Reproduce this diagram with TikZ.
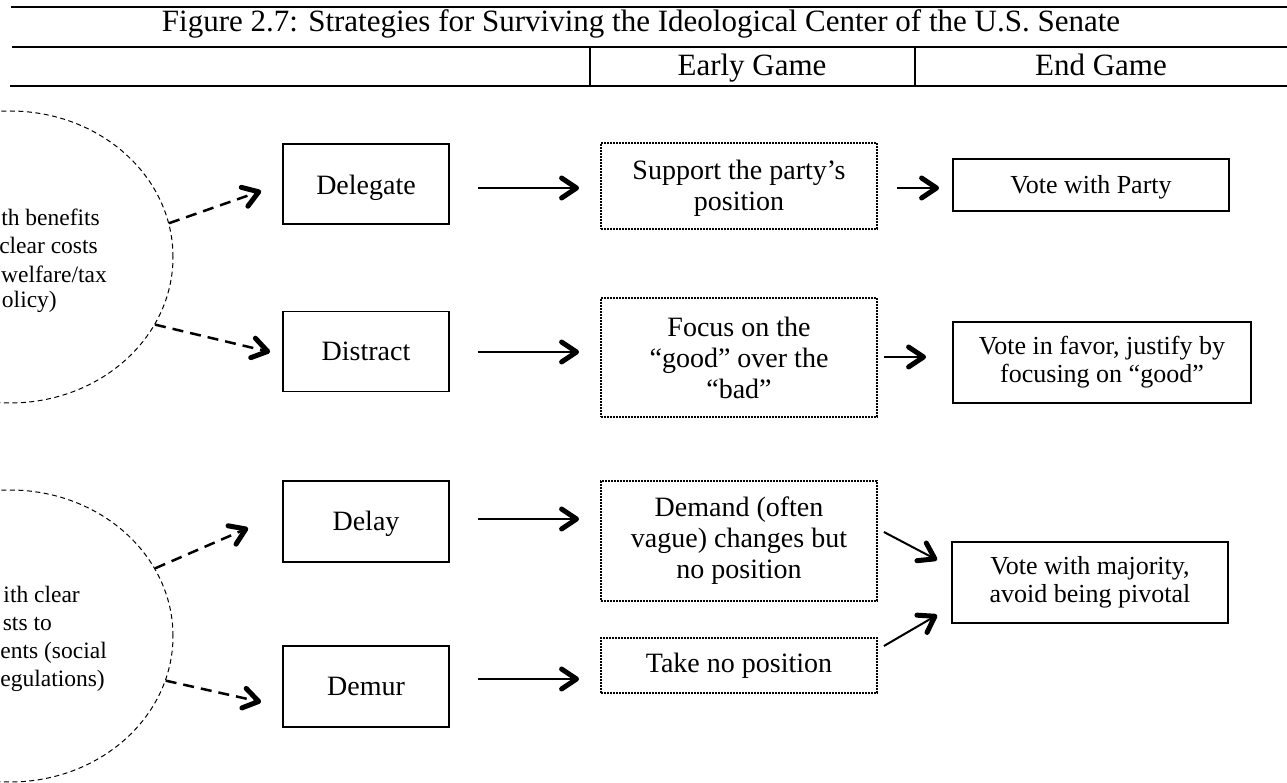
\documentclass[tikz,border=0pt]{standalone}
\usepackage{fontspec}
\setmainfont{Liberation Serif}
\usetikzlibrary{arrows.meta,shapes.geometric}
\newcommand\pushdown[1]{\rule{0pt}{\dimexpr0.69em+#1\relax}}
\begin{document}
\begin{tikzpicture}[x=1pt,y=-1pt,
  solidbox/.style={draw, line width=1.8pt, inner sep=0pt, align=center},
  dotbox/.style={draw, line width=1.8pt, dash pattern=on 1.6pt off 1.4pt, inner sep=0pt, align=center},
  earlyfont/.style={font=\fontsize{28}{31}\selectfont},
  endfont/.style={font=\fontsize{26}{28}\selectfont},
  headfont/.style={font=\fontsize{31}{31}\selectfont},
  bubble/.style={draw, ellipse, line width=1pt, dash pattern=on 5pt off 3.5pt, inner sep=0pt, minimum width=326pt, minimum height=292pt},
  bubbletext/.style={anchor=base east, inner sep=0pt, font=\fontsize{23.5}{28}\selectfont},
  tipstyle/.style={-{Straight Barb[length=15pt,width=20pt,line width'=5pt,round]}},
  solidarrow/.style={tipstyle, line width=2pt},
  dasharrow/.style={tipstyle, line width=2.5pt, dash pattern=on 11pt off 7pt},
  rulestyle/.style={line width=2.5pt},
  divider/.style={line width=1.5pt},
]
\useasboundingbox (0,0) rectangle (1287,783);

% header table
\draw[rulestyle] (11,7) -- (1287,7);
\draw[rulestyle] (12,47) -- (1287,47);
\draw[rulestyle] (10,86) -- (1287,86);
\draw[divider] (590,47) -- (590,86);
\draw[divider] (915,47) -- (915,86);
\node[anchor=base, inner sep=0pt, headfont] (title) at (641,32) {Figure 2.7: Strategies for Surviving the Ideological Center of the U.S. Senate};
\node[anchor=base, inner sep=0pt, headfont] (early) at (752,76) {Early Game};
\node[anchor=base, inner sep=0pt, headfont] (endgame) at (1101,76) {End Game};

% left bubbles
\node[bubble] (c1) at (10,257) {};
\node[bubble] (c2) at (10,636) {};
\node[bubbletext] (t1a) at (100,226) {th benefits};
\node[bubbletext] (t1b) at (98,254) {clear costs};
\node[bubbletext] (t1c) at (107,283) {welfare/tax};
\node[bubbletext] (t1d) at (57,308) {olicy)};
\node[bubbletext] (t2a) at (80,602) {ith clear};
\node[bubbletext] (t2b) at (52,630) {sts to};
\node[bubbletext] (t2c) at (107,658) {ents (social};
\node[bubbletext] (t2d) at (105,686) {egulations)};

% strategy boxes
\node[solidbox, minimum width=166pt, minimum height=80pt, earlyfont] (delegate) at (366,184) {\pushdown{7pt}Delegate};
\node[solidbox, minimum width=166pt, minimum height=80pt, earlyfont] (distract) at (366,351.5) {Distract};
\node[solidbox, minimum width=166pt, minimum height=81pt, earlyfont] (delay) at (366,521.5) {\pushdown{5pt}Delay};
\node[solidbox, minimum width=166pt, minimum height=81pt, earlyfont] (demur) at (366,686.5) {Demur};

% early game boxes
\node[dotbox, minimum width=276pt, minimum height=86pt, earlyfont] (support) at (739,186) {\pushdown{5pt}Support the party’s\\position};
\node[dotbox, minimum width=276pt, minimum height=119pt, earlyfont] (focus) at (739,357.5) {Focus on the\\“good” over the\\“bad”};
\node[dotbox, minimum width=276pt, minimum height=120pt, earlyfont] (demand) at (739,541) {Demand (often\\vague) changes but\\no position};
\node[dotbox, minimum width=276pt, minimum height=55pt, earlyfont] (take) at (739,665.5) {Take no position};

% end game boxes
\node[solidbox, minimum width=276pt, minimum height=52pt, endfont] (party) at (1091,185) {\pushdown{4pt}Vote with Party};
\node[solidbox, minimum width=298pt, minimum height=81pt, endfont] (favor) at (1102,362.5) {Vote in favor, justify by\\focusing on “good”};
\node[solidbox, minimum width=276pt, minimum height=81pt, endfont] (majority) at (1090,582.5) {Vote with majority,\\avoid being pivotal};

% dashed arrows from bubbles
\draw[dasharrow] (c1.12) -- ([shift={(-21,7)}]delegate.west);
\draw[dasharrow] (c1.-25) -- ([shift={(-12,0.5)}]distract.west);
\draw[dasharrow] (c2.25) -- ([shift={(-34,6.5)}]delay.west);
\draw[dasharrow] (c2.-16) -- ([shift={(-21,15.5)}]demur.west);

% solid arrows
\draw[solidarrow] ([shift={(28,4)}]delegate.east) -- ([shift={(-21,2)}]support.west);
\draw[solidarrow] ([shift={(28,0.5)}]distract.east) -- ([shift={(-21,-5.5)}]focus.west);
\draw[solidarrow] ([shift={(28,-2.5)}]delay.east) -- ([shift={(-21,-22)}]demand.west);
\draw[solidarrow] ([shift={(28,-7.5)}]demur.east) -- ([shift={(-21,13.5)}]take.west);
\draw[solidarrow] ([shift={(19,2)}]support.east) -- ([shift={(-13,3)}]party.west);
\draw[solidarrow] ([shift={(6,-0.5)}]focus.east) -- ([shift={(-26,-5.5)}]favor.west);
\draw[solidarrow] ([shift={(6,-9)}]demand.east) -- ([shift={(-14,-22.5)}]majority.west);
\draw[solidarrow] ([shift={(6,-19.5)}]take.east) -- ([shift={(-14,32.5)}]majority.west);
\end{tikzpicture}
\end{document}
